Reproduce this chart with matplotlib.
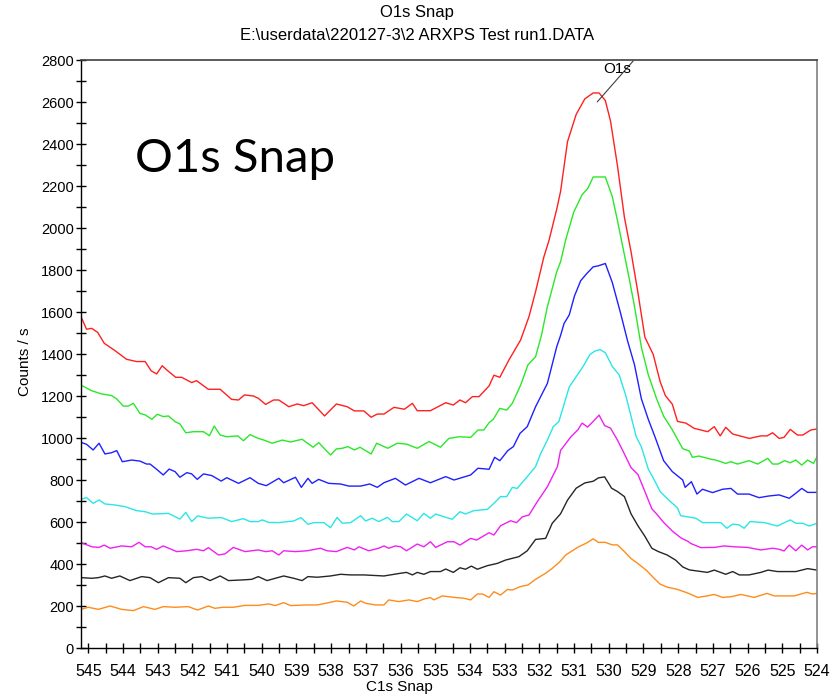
import matplotlib
matplotlib.use("Agg")
import matplotlib.pyplot as plt
from matplotlib.ticker import MultipleLocator
from matplotlib.transforms import offset_copy

plt.rcParams['font.family'] = ['Liberation Sans', 'DejaVu Sans']

title_main = "O1s Snap"
title_sub = "E:\\userdata\\220127-3\\2 ARXPS Test run1.DATA"
x_label = "C1s Snap"
y_label = "Counts / s"
overlay_text = "O1s Snap"
peak_label = "O1s"

red = [(545.19,1570),(545.05,1518),(544.90,1522),(544.73,1503),(544.54,1451),(544.23,1416),(543.90,1375),(543.61,1364),(543.36,1364),(543.19,1320),(543.03,1305),(542.87,1344),(542.71,1320),(542.48,1289),(542.31,1289),(542.02,1264),(541.88,1273),(541.54,1232),(541.20,1232),(540.87,1184),(540.67,1181),(540.50,1205),(540.24,1200),(540.10,1189),(539.89,1160),(539.66,1181),(539.51,1181),(539.22,1149),(538.98,1162),(538.79,1154),(538.55,1168),(538.19,1105),(537.85,1162),(537.54,1149),(537.33,1129),(537.06,1129),(536.85,1099),(536.67,1114),(536.48,1114),(536.19,1146),(535.89,1137),(535.66,1165),(535.52,1130),(535.14,1130),(534.70,1168),(534.48,1157),(534.29,1181),(534.13,1168),(533.93,1197),(533.74,1197),(533.45,1248),(533.31,1299),(533.14,1289),(532.88,1371),(532.54,1467),(532.30,1578),(532.11,1697),(531.87,1863),(531.72,1943),(531.50,2090),(531.39,2174),(531.19,2411),(530.94,2541),(530.69,2615),(530.45,2643),(530.28,2643),(530.10,2607),(529.95,2509),(529.75,2296),(529.55,2051),(529.36,1888),(529.16,1692),(528.96,1480),(528.72,1398),(528.52,1268),(528.37,1202),(528.17,1161),(528.02,1079),(527.78,1071),(527.54,1046),(527.15,1030),(526.96,1054),(526.79,1010),(526.63,1051),(526.43,1019),(525.95,998),(525.62,1010),(525.44,1010),(525.28,1025),(525.09,998),(524.95,1003),(524.77,1041),(524.56,1014),(524.41,1014),(524.18,1038),(524.00,1043)]

green = [(545.21,1252),(544.90,1225),(544.62,1210),(544.33,1202),(544.18,1186),(543.99,1152),(543.85,1152),(543.70,1165),(543.51,1117),(543.36,1110),(543.17,1089),(543.01,1113),(542.84,1102),(542.69,1105),(542.50,1078),(542.36,1067),(542.19,1025),(541.97,1030),(541.68,1030),(541.51,1011),(541.37,1057),(541.20,1014),(541.01,1006),(540.69,1010),(540.53,987),(540.34,1016),(540.10,998),(539.94,990),(539.70,975),(539.41,990),(539.17,981),(538.84,994),(538.52,956),(538.36,978),(538.02,919),(537.85,948),(537.68,951),(537.52,959),(537.33,943),(537.17,956),(536.85,924),(536.69,975),(536.37,951),(536.10,975),(535.83,971),(535.52,951),(535.18,983),(534.85,956),(534.61,998),(534.32,1006),(533.98,1003),(533.77,1038),(533.60,1038),(533.45,1073),(533.33,1089),(533.14,1141),(532.94,1133),(532.78,1165),(532.54,1252),(532.33,1348),(532.11,1387),(531.94,1490),(531.77,1625),(531.50,1792),(531.39,1839),(531.24,1945),(531.01,2076),(530.77,2158),(530.60,2190),(530.45,2243),(530.25,2243),(530.10,2243),(529.90,2150),(529.75,2035),(529.55,1872),(529.41,1758),(529.26,1627),(529.06,1431),(528.86,1300),(528.62,1186),(528.42,1104),(528.17,1039),(527.87,949),(527.68,938),(527.59,908),(527.40,914),(527.06,899),(526.92,895),(526.63,879),(526.48,887),(526.29,876),(525.96,892),(525.71,876),(525.42,903),(525.28,876),(525.12,876),(524.93,892),(524.77,882),(524.61,895),(524.44,871),(524.27,895),(524.10,879),(524.00,911)]

blue = [(545.21,979),(545.05,970),(544.86,943),(544.69,975),(544.52,924),(544.33,930),(544.18,940),(544.02,887),(543.75,895),(543.51,890),(543.32,876),(543.22,876),(543.03,851),(542.84,824),(542.67,852),(542.50,840),(542.36,813),(542.16,835),(542.02,829),(541.86,803),(541.68,829),(541.44,821),(541.17,795),(541.01,811),(540.67,784),(540.34,811),(540.10,784),(539.87,773),(539.51,808),(539.37,787),(539.03,813),(538.86,765),(538.67,808),(538.55,784),(538.36,803),(538.07,784),(537.73,781),(537.49,771),(537.15,771),(536.89,781),(536.67,765),(536.48,787),(536.15,808),(535.86,776),(535.47,808),(535.14,787),(534.70,816),(534.46,800),(533.98,824),(533.77,856),(533.45,851),(533.29,908),(533.14,892),(532.91,940),(532.75,959),(532.56,1022),(532.35,1054),(532.11,1149),(531.77,1260),(531.50,1435),(531.39,1488),(531.29,1545),(531.14,1586),(530.99,1676),(530.81,1749),(530.64,1782),(530.45,1815),(530.30,1820),(530.10,1831),(529.90,1741),(529.66,1594),(529.46,1463),(529.26,1349),(529.06,1186),(528.86,1088),(528.67,1006),(528.42,892),(528.17,840),(527.87,800),(527.80,765),(527.62,792),(527.46,733),(527.30,756),(527.01,740),(526.72,756),(526.48,760),(526.29,733),(525.96,733),(525.67,716),(525.38,724),(525.09,729),(524.80,713),(524.61,737),(524.44,760),(524.27,741),(524.00,741)]

cyan = [(545.21,708),(545.05,716),(544.86,689),(544.69,705),(544.52,686),(544.23,681),(543.94,673),(543.61,654),(543.36,649),(543.15,638),(542.69,641),(542.36,614),(542.19,646),(542.02,602),(541.85,629),(541.54,618),(541.16,621),(540.87,602),(540.53,616),(540.34,602),(540.10,602),(539.99,610),(539.80,598),(539.51,597),(539.08,605),(538.87,621),(538.67,589),(538.50,597),(538.21,597),(538.02,573),(537.83,622),(537.68,594),(537.44,597),(537.15,630),(537.01,605),(536.82,618),(536.63,602),(536.38,622),(536.24,602),(536.05,602),(535.83,638),(535.52,606),(535.33,641),(535.14,618),(534.99,638),(534.75,625),(534.51,613),(534.29,649),(534.13,638),(533.89,654),(533.50,660),(533.31,689),(533.12,721),(532.94,721),(532.78,765),(532.64,760),(532.35,816),(532.11,864),(531.96,927),(531.77,990),(531.60,1054),(531.44,1078),(531.14,1243),(530.94,1292),(530.74,1341),(530.54,1398),(530.40,1414),(530.25,1421),(530.10,1406),(529.90,1341),(529.70,1300),(529.51,1202),(529.36,1104),(529.21,1006),(529.06,957),(528.86,851),(528.72,810),(528.52,745),(528.27,704),(528.02,667),(527.93,630),(527.49,618),(527.30,597),(526.77,597),(526.60,570),(526.43,590),(526.24,586),(526.10,570),(525.93,602),(525.52,597),(525.14,581),(524.77,610),(524.61,594),(524.42,594),(524.22,581),(524.00,594)]

magenta = [(545.21,502),(544.90,482),(544.69,479),(544.54,490),(544.37,475),(544.04,486),(543.75,482),(543.54,503),(543.36,482),(543.19,482),(543.03,470),(542.84,486),(542.45,459),(542.16,463),(541.88,470),(541.68,463),(541.54,478),(541.25,443),(541.06,448),(540.82,479),(540.48,459),(540.10,467),(539.89,459),(539.70,463),(539.51,443),(539.37,463),(539.03,459),(538.69,463),(538.31,475),(538.12,463),(537.85,459),(537.54,479),(537.33,467),(537.20,482),(536.92,463),(536.63,475),(536.48,486),(536.34,475),(536.15,486),(536.00,482),(535.83,463),(535.52,495),(535.33,482),(535.14,506),(534.99,479),(534.65,506),(534.46,506),(534.29,490),(533.98,522),(533.81,514),(533.45,549),(533.31,538),(533.12,582),(532.83,606),(532.66,597),(532.49,625),(532.30,633),(532.06,697),(531.77,768),(531.48,864),(531.39,941),(531.09,1006),(530.89,1039),(530.77,1071),(530.61,1052),(530.45,1079),(530.28,1109),(530.12,1059),(529.95,1047),(529.75,990),(529.55,924),(529.36,859),(529.16,826),(528.96,745),(528.76,663),(528.62,638),(528.42,598),(528.17,557),(527.92,524),(527.72,508),(527.64,498),(527.35,478),(526.96,479),(526.68,486),(526.39,482),(526.00,479),(525.62,467),(525.28,475),(525.09,470),(524.95,462),(524.80,490),(524.61,463),(524.44,490),(524.27,467),(524.13,482),(524.00,482)]

black = [(545.21,335),(544.90,332),(544.71,335),(544.52,343),(544.33,332),(544.09,343),(543.80,321),(543.46,340),(543.22,335),(542.98,311),(542.69,335),(542.36,332),(542.19,311),(541.97,335),(541.73,340),(541.49,321),(541.20,343),(540.96,321),(540.58,324),(540.29,327),(540.10,340),(539.85,321),(539.37,343),(539.08,332),(538.84,321),(538.67,340),(538.40,337),(538.02,343),(537.73,351),(537.44,348),(537.06,348),(536.48,343),(536.00,356),(535.83,360),(535.66,348),(535.52,360),(535.33,351),(535.14,364),(534.85,364),(534.70,376),(534.48,360),(534.29,382),(534.13,375),(533.96,390),(533.79,375),(533.50,392),(533.21,403),(532.97,419),(532.59,435),(532.35,463),(532.11,517),(531.82,522),(531.63,594),(531.39,639),(531.19,704),(530.94,761),(530.69,786),(530.45,794),(530.30,810),(530.12,815),(529.92,761),(529.75,745),(529.55,721),(529.36,639),(529.16,582),(528.96,532),(528.76,475),(528.57,459),(528.32,443),(528.07,418),(527.87,386),(527.68,372),(527.16,360),(526.96,371),(526.63,351),(526.43,364),(526.24,348),(525.96,348),(525.62,360),(525.41,371),(525.14,364),(524.61,364),(524.27,378),(524.00,371)]

orange = [(545.21,184),(545.00,194),(544.71,184),(544.37,200),(544.04,184),(543.70,178),(543.41,197),(543.08,184),(542.84,197),(542.50,194),(542.12,197),(541.85,181),(541.54,200),(541.35,189),(541.11,194),(540.82,194),(540.48,203),(540.10,203),(539.80,210),(539.61,202),(539.37,216),(539.17,202),(538.69,205),(538.40,205),(538.16,213),(537.85,224),(537.54,218),(537.35,200),(537.15,224),(537.01,213),(536.72,205),(536.48,205),(536.34,229),(536.05,221),(535.76,229),(535.52,221),(535.33,233),(535.14,240),(535.04,229),(534.80,248),(534.46,241),(534.18,237),(533.98,229),(533.79,257),(533.64,257),(533.45,241),(533.31,268),(533.12,252),(532.92,279),(532.78,276),(532.56,292),(532.33,300),(532.11,327),(531.82,356),(531.63,379),(531.41,411),(531.24,443),(531.09,459),(530.89,480),(530.64,500),(530.45,520),(530.30,503),(530.10,503),(529.90,491),(529.75,491),(529.55,459),(529.36,426),(529.16,402),(528.91,369),(528.72,336),(528.52,304),(528.32,290),(528.02,279),(527.73,262),(527.44,241),(527.16,248),(526.96,255),(526.72,241),(526.48,244),(526.19,255),(525.81,241),(525.44,260),(525.23,248),(524.66,248),(524.29,265),(524.13,257),(524.00,260)]

series = [
    (red, '#ff2020'),
    (green, '#2ae82a'),
    (blue, '#2020ff'),
    (cyan, '#2ae6e6'),
    (magenta, '#f020f0'),
    (black, '#262626'),
    (orange, '#ff8c1a'),
]

fig = plt.figure(figsize=(8.34, 6.96), dpi=100)
ax = fig.add_axes([81/834, 1-648/696, (817-81)/834, (648-60)/696])

for data, col in series:
    xs = [p[0] for p in data]
    ys = [p[1] for p in data]
    ax.plot(xs, ys, color=col, lw=1.0)

ax.set_xlim(545.21, 524.0)
ax.set_ylim(0, 2800)
ax.xaxis.set_major_locator(MultipleLocator(1))
ax.xaxis.set_minor_locator(MultipleLocator(0.5))
ax.yaxis.set_major_locator(MultipleLocator(200))
ax.yaxis.set_minor_locator(MultipleLocator(100))
ax.tick_params(axis='both', which='both', direction='inout', length=7, width=1, color='black')
ax.tick_params(axis='x', which='major', pad=8, labelsize=11.5)
ax.tick_params(axis='y', which='major', pad=1.5, labelsize=10.5)

for s in ['left', 'bottom']:
    ax.spines[s].set_color('black')
    ax.spines[s].set_linewidth(1)
ax.spines['top'].set_color('#404040')
ax.spines['top'].set_linewidth(1.2)
ax.spines['right'].set_color('#808080')
ax.spines['right'].set_linewidth(1.2)

fig.text(0.5, 1-13/696, title_main, ha='center', va='center', fontsize=12)
fig.text(0.5, 1-35/696, title_sub, ha='center', va='center', fontsize=12)
fig.text(399/834, 1-687/696, x_label, ha='center', va='center', fontsize=11)
fig.text(25/834, 1-362/696, y_label, ha='center', va='center', rotation=90, fontsize=11)

ax.text(0.073, 0.81, overlay_text, transform=ax.transAxes, ha='left', va='baseline',
        fontsize=34, family=['Lato', 'DejaVu Sans'])

# peak label
rx = [p[0] for p in red]
ry = [p[1] for p in red]
i = max(range(len(ry)), key=lambda k: ry[k])
tr = offset_copy(ax.transData, fig=fig, x=4, y=-9, units='dots')
ax.annotate('', xy=(rx[i], ry[i]), xycoords=tr, xytext=(36, 41), textcoords='offset pixels',
            arrowprops=dict(arrowstyle='-', color='#404040', lw=0.8, shrinkA=0, shrinkB=0))
ax.annotate(peak_label, xy=(rx[i], ry[i]), xycoords='data', xytext=(24, 24),
            textcoords='offset pixels', ha='center', va='center', fontsize=11)

fig.savefig('out.png', dpi=100)
